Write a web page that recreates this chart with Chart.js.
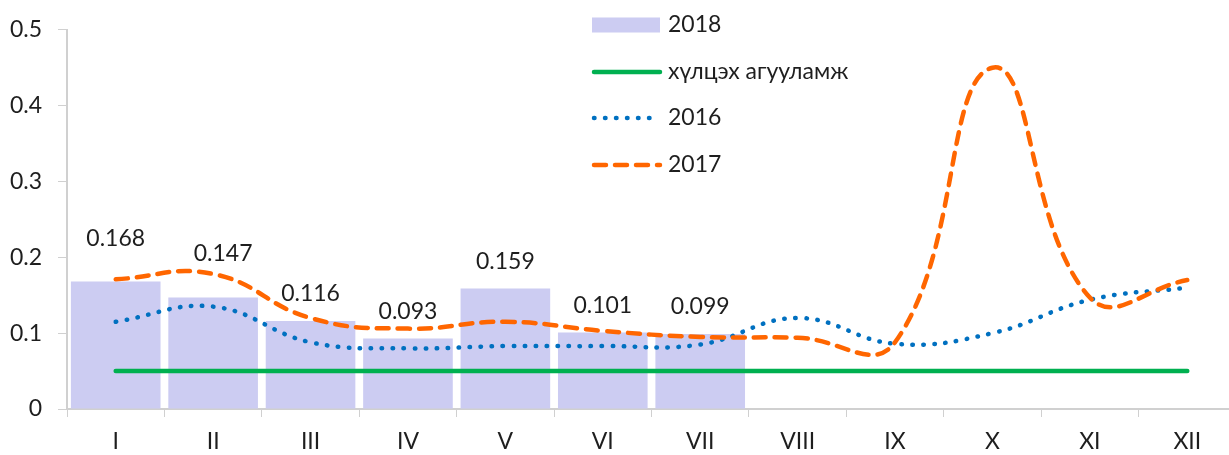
<!DOCTYPE html>
<html>
<head>
<meta charset="utf-8">
<script src="https://cdn.jsdelivr.net/npm/chart.js@4/dist/chart.umd.min.js"></script>
<style>
  html, body { margin: 0; padding: 0; background: #fff; overflow: hidden; }
  #wrap { width: 1236px; height: 455px; }
</style>
</head>
<body>
<div id="wrap"><canvas id="chart" width="1236" height="455"></canvas></div>
<script>
// data
const months = ['I', 'II', 'III', 'IV', 'V', 'VI', 'VII', 'VIII', 'IX', 'X', 'XI', 'XII'];
const values2018 = [0.168, 0.147, 0.116, 0.093, 0.159, 0.101, 0.099, null, null, null, null, null];
const limitValues = [0.05, 0.05, 0.05, 0.05, 0.05, 0.05, 0.05, 0.05, 0.05, 0.05, 0.05, 0.05];
const values2016 = [0.115, 0.135, 0.088, 0.08, 0.083, 0.083, 0.085, 0.12, 0.086, 0.1, 0.144, 0.16];
const values2017 = [0.171, 0.178, 0.12, 0.106, 0.115, 0.103, 0.095, 0.094, 0.088, 0.45, 0.147, 0.17];

const FONT = 'Lato, "Open Sans", "DejaVu Sans", sans-serif';
const FSIZE = 23;
const TEXT = '#1e1e1e';
const AXIS = '#d0d0d0';

// bar value labels (the first two were lifted above the 2017 line in the original)
const barLabels = {
    id: 'barLabels',
    afterDatasetsDraw(chart, args, opts) {
        const ctx = chart.ctx;
        const meta = chart.getDatasetMeta(0);
        ctx.save();
        ctx.font = FSIZE + 'px ' + FONT;
        ctx.fillStyle = TEXT;
        ctx.textAlign = 'center';
        ctx.textBaseline = 'middle';
        meta.data.forEach((bar, i) => {
            const v = values2018[i];
            if (v == null) return;
            const lift = i < opts.lifted.length ? opts.lifted[i] : opts.gap;
            const dx = i === 1 ? 10 : 0;
            ctx.fillText(v.toFixed(3), bar.x + dx, bar.y - lift);
        });
        ctx.restore();
    }
};

// legend stacked vertically in the upper middle
const sideLegend = {
    id: 'sideLegend',
    afterDraw(chart) {
        const ctx = chart.ctx;
        const rows = [25, 72, 118, 165];
        const x0 = 592, x1 = 660, tx = 668;
        ctx.save();
        chart.data.datasets.forEach((ds, i) => {
            const y = rows[i];
            if (ds.type === 'bar') {
                ctx.fillStyle = ds.backgroundColor;
                ctx.fillRect(x0, y - 7.5, x1 - x0, 15);
            } else {
                ctx.strokeStyle = ds.borderColor;
                ctx.lineWidth = ds.borderWidth;
                ctx.lineCap = 'round';
                ctx.setLineDash(ds.borderDash || []);
                ctx.beginPath();
                ctx.moveTo(x0 + 2, y);
                ctx.lineTo(x1, y);
                ctx.stroke();
                ctx.setLineDash([]);
            }
            ctx.font = FSIZE + 'px ' + FONT;
            ctx.fillStyle = TEXT;
            ctx.textAlign = 'left';
            ctx.textBaseline = 'middle';
            ctx.fillText(ds.label, tx, y);
        });
        ctx.restore();
    }
};

var ctx = document.getElementById('chart').getContext('2d');
var chart = new Chart(ctx, {
    type: 'bar',
    data: {
        labels: months,
        datasets: [
            {
                type: 'bar',
                label: '2018',
                data: values2018,
                backgroundColor: 'rgb(204, 204, 242)',
                barPercentage: 0.92,
                categoryPercentage: 1.0,
                order: 4
            },
            {
                type: 'line',
                label: 'хүлцэх агууламж',
                data: limitValues,
                borderColor: 'rgb(0, 176, 80)',
                borderWidth: 4.5,
                borderCapStyle: 'round',
                pointRadius: 0,
                fill: false,
                order: 3
            },
            {
                type: 'line',
                label: '2016',
                data: values2016,
                borderColor: 'rgb(0, 112, 192)',
                borderWidth: 4.5,
                borderDash: [0.5, 10.5],
                borderCapStyle: 'round',
                tension: 0.42,
                pointRadius: 0,
                fill: false,
                order: 2
            },
            {
                type: 'line',
                label: '2017',
                data: values2017,
                borderColor: 'rgb(255, 102, 0)',
                borderWidth: 4.5,
                borderDash: [12, 9],
                borderCapStyle: 'round',
                tension: 0.45,
                pointRadius: 0,
                fill: false,
                order: 1
            }
        ]
    },
    options: {
        responsive: false,
        animation: false,
        layout: { padding: { top: 26, left: 0, right: 0, bottom: 0 } },
        plugins: {
            legend: { display: false },
            tooltip: { enabled: false },
            barLabels: { lifted: [43, 44], gap: 27 }
        },
        scales: {
            x: {
                offset: true,
                grid: {
                    offset: true,
                    drawOnChartArea: false,
                    drawTicks: true,
                    tickLength: 8,
                    color: AXIS
                },
                border: { display: true, color: AXIS, width: 2 },
                ticks: {
                    color: TEXT,
                    font: { family: FONT, size: FSIZE },
                    padding: 11,
                    maxRotation: 0
                },
                afterFit(scale) { scale.height = 46; }
            },
            y: {
                min: 0,
                max: 0.5,
                ticks: {
                    stepSize: 0.1,
                    color: TEXT,
                    font: { family: FONT, size: FSIZE },
                    padding: 16
                },
                grid: {
                    drawOnChartArea: false,
                    drawTicks: true,
                    tickLength: 9,
                    color: AXIS
                },
                border: { display: true, color: AXIS, width: 2 },
                afterFit(scale) { scale.width = 67; }
            }
        }
    },
    plugins: [barLabels, sideLegend]
});
</script>
</body>
</html>
